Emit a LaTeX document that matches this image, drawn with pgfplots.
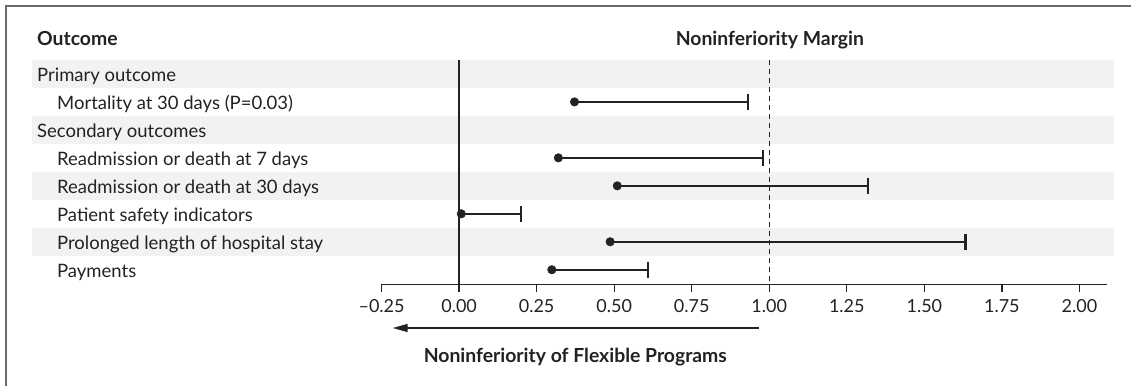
\documentclass[border=0pt]{standalone}
\usepackage{pgfplots}
\pgfplotsset{compat=1.18}
\usepackage{fontspec}
\setmainfont{Lato}
\usetikzlibrary{arrows.meta}
\definecolor{band}{HTML}{F2F2F2}
\definecolor{ink}{HTML}{222222}
\definecolor{frame}{HTML}{6A6A6A}
\begin{document}
\begin{tikzpicture}
\path (0pt,0pt) rectangle (1132pt,-386pt);
\fontsize{18.5}{21}\selectfont
% frame
\draw[frame, line width=2pt] (6pt,-386pt) -- (6pt,-6.5pt) -- (1132pt,-6.5pt);
% bands
\foreach \yt/\yb in {60/88,116/144,172/200,228/256} {
  \fill[band] (31.7pt,-\yt pt) rectangle (1115pt,-\yb pt);
}
% headers
\node[anchor=base west, inner sep=0pt, font=\fontsize{19.4}{22}\selectfont\bfseries, text=ink] at (37pt,-45.5pt) {Outcome};
\node[anchor=base, inner sep=0pt, font=\fontsize{19.4}{22}\selectfont\bfseries, text=ink] at (770.5pt,-45.5pt) {Noninferiority Margin};
% row labels
\node[anchor=base west, inner sep=0pt, text=ink] at (37pt,-81.7pt) {Primary outcome};
\node[anchor=base west, inner sep=0pt, text=ink] at (57pt,-109.7pt) {Mortality at 30 days (P=0.03)};
\node[anchor=base west, inner sep=0pt, text=ink] at (37pt,-137.7pt) {Secondary outcomes};
\node[anchor=base west, inner sep=0pt, text=ink] at (57pt,-165.7pt) {Readmission or death at 7 days};
\node[anchor=base west, inner sep=0pt, text=ink] at (57pt,-193.7pt) {Readmission or death at 30 days};
\node[anchor=base west, inner sep=0pt, text=ink] at (57pt,-221.7pt) {Patient safety indicators};
\node[anchor=base west, inner sep=0pt, text=ink] at (57pt,-249.7pt) {Prolonged length of hospital stay};
\node[anchor=base west, inner sep=0pt, text=ink] at (57pt,-277.7pt) {Payments};
\begin{axis}[
  at={(381.9pt,-284.5pt)}, anchor=south west,
  scale only axis, width=726.1pt, height=224.5pt,
  xmin=-0.25, xmax=2.089, ymin=-8.518, ymax=-0.5,
  axis x line=bottom, axis y line=none,
  axis line style={ink, line width=1.3pt, -},
  clip=false,
  xtick={-0.25,0,0.25,0.5,0.75,1,1.25,1.5,1.75,2},
  xticklabels={–0.25,0.00,0.25,0.50,0.75,1.00,1.25,1.50,1.75,2.00},
  xtick align=outside,
  major tick length=8pt,
  tick style={ink, line width=1.3pt},
  xticklabel style={font=\fontsize{18}{21}\selectfont, text=ink, anchor=base, inner sep=0pt, yshift=-20.5pt},
  ytick=\empty,
]
\draw[ink, line width=1.4pt] (axis cs:0,-0.5) -- (axis cs:0,-8.518);
\draw[ink, line width=1.4pt, dash pattern=on 5pt off 4pt] (axis cs:1,-0.5) -- (axis cs:1,-8.518);
\addplot[only marks, mark=*, mark size=4.3pt, ink,
  error bars/.cd, x dir=plus, x explicit,
  error bar style={line width=2.3pt, ink},
  error mark options={rotate=90, mark size=8pt, line width=2.2pt, ink}]
coordinates {
  (0.372,-2) +- (0.560,0)
  (0.320,-4) +- (0.661,0)
  (0.510,-5) +- (0.808,0)
  (0.007,-6) +- (0.193,0)
  (0.487,-7) +- (1.146,0)
  (0.299,-8) +- (0.309,0)
};
\draw[ink, line width=1.5pt, -{Triangle[length=15pt,width=8pt]}] (axis cs:0.968,-10.082) -- (axis cs:-0.214,-10.082);
\end{axis}
\node[anchor=base, inner sep=0pt, font=\fontsize{19.4}{22}\selectfont\bfseries, text=ink] at (575.8pt,-363.3pt) {Noninferiority of Flexible Programs};
\end{tikzpicture}
\end{document}
